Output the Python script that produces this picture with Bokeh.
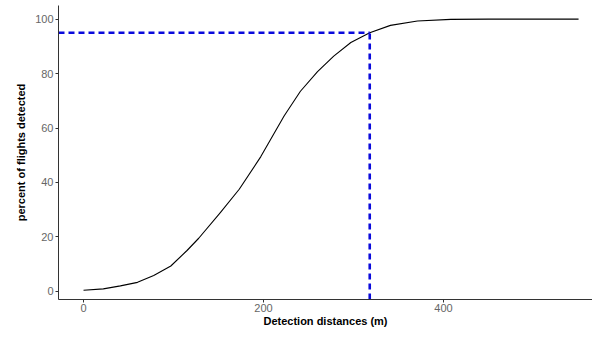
from bokeh.plotting import figure
from bokeh.models import Range1d, FixedTicker, ColumnDataSource
from bokeh.embed import file_html
from bokeh.resources import INLINE

# --- data ---
distance_m = [0, 22, 41, 60, 78, 97, 115, 128, 152, 173, 197, 223, 241, 260,
              278, 297, 318, 341, 371, 408, 450, 500, 550]
percent_detected = [0.4, 0.9, 2.0, 3.3, 5.8, 9.3, 15.0, 19.5, 28.9, 37.5, 49.5,
                    64.5, 73.5, 80.7, 86.4, 91.4, 95.0, 97.7, 99.3, 99.9, 100.0,
                    100.0, 100.0]
threshold_distance = [318]
threshold_percent = [95]
x_ticks = [0, 200, 400]
y_ticks = [0, 20, 40, 60, 80, 100]

X_START, X_END = -27.8, 565.5
Y_START, Y_END = -3.0, 105.0

p = figure(width=592, height=329, output_backend="svg", toolbar_location=None,
           x_range=Range1d(X_START, X_END), y_range=Range1d(Y_START, Y_END),
           min_border_left=58, min_border_right=0, min_border_top=5, min_border_bottom=0)

p.outline_line_color = None
p.xgrid.visible = False
p.ygrid.visible = False
p.background_fill_color = "white"

p.line(distance_m, percent_detected, line_color="black", line_width=1.1,
       line_join="round")

src_h = ColumnDataSource(dict(x0=[X_START] * len(threshold_distance), y0=threshold_percent,
                              x1=threshold_distance, y1=threshold_percent))
src_v = ColumnDataSource(dict(x0=threshold_distance, y0=[Y_START] * len(threshold_distance),
                              x1=threshold_distance, y1=threshold_percent))
for s in (src_h, src_v):
    p.segment(x0="x0", y0="y0", x1="x1", y1="y1", source=s,
              line_color="#0A0ADC", line_width=2.6, line_dash="6 4")

font = "Liberation Sans"
for ax in (p.xaxis[0], p.yaxis[0]):
    ax.axis_line_color = "#333333"
    ax.axis_line_width = 1
    ax.major_tick_line_color = "#333333"
    ax.major_tick_out = 3
    ax.major_tick_in = 0
    ax.minor_tick_line_color = None
    ax.major_label_text_font = font
    ax.major_label_text_font_size = "11px"
    ax.major_label_text_color = "#666666"
    ax.major_label_standoff = 2
    ax.axis_label_text_font = font
    ax.axis_label_text_font_size = "11px"
    ax.axis_label_text_font_style = "bold"
    ax.axis_label_text_color = "black"

p.xaxis.ticker = FixedTicker(ticks=x_ticks)
p.yaxis.ticker = FixedTicker(ticks=y_ticks)
p.xaxis.axis_label = "Detection distances (m)"
p.yaxis.axis_label = "percent of flights detected"
p.xaxis.major_label_standoff = 1
p.xaxis.axis_label_standoff = 0
p.yaxis.axis_label_standoff = 5

open("out.html", "w").write(file_html(p, INLINE))
